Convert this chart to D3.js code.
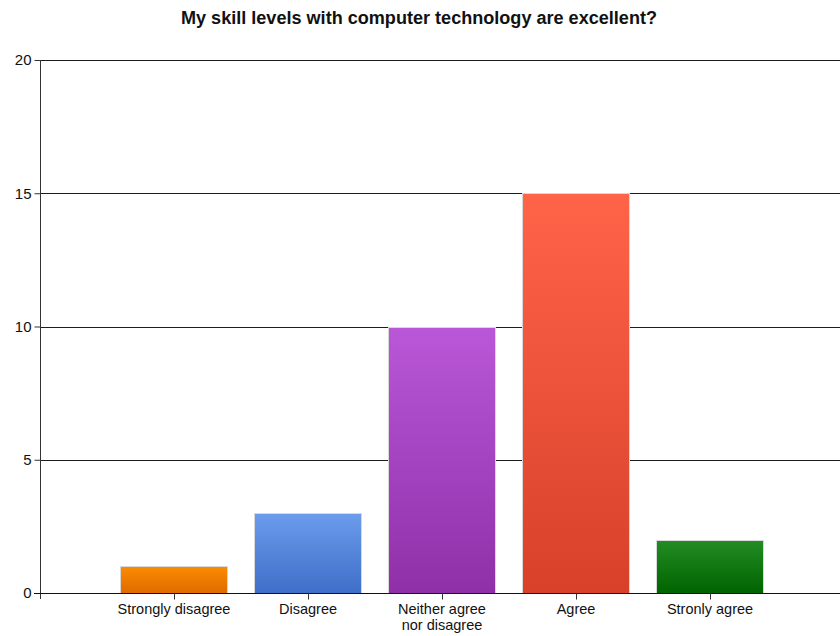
<!DOCTYPE html>
<html>
<head>
<meta charset="utf-8">
<script src="https://cdn.jsdelivr.net/npm/d3@7"></script>
<style>
  html, body { margin: 0; padding: 0; background: #fff; }
  svg { display: block; }
  text { font-family: "Liberation Sans", Arial, sans-serif; fill: #111; }
</style>
</head>
<body>
<svg id="chart" width="840" height="636"></svg>
<script>
// Survey answers and response counts
const categories = ["Strongly disagree", "Disagree", "Neither agree\nnor disagree", "Agree", "Stronly agree"];
const counts = [1, 3, 10, 15, 2];
const yTicks = [0, 5, 10, 15, 20];
// Gradient stops per bar: [top, bottom]
const barColors = [
  ["#fa8c00", "#df6a00"],
  ["#6c9ceb", "#3e6ec8"],
  ["#b957d8", "#8f30a8"],
  ["#ff6449", "#d8402a"],
  ["#238c23", "#006300"]
];
const title = "My skill levels with computer technology are excellent?";

const svg = d3.select("#chart");
const plotLeft = 40, plotTop = 60, plotBottom = 593, plotRight = 844;

// Category axis runs from position 0 to 6, categories sit at 1..5
const x = d3.scaleLinear().domain([0, categories.length + 1]).range([plotLeft, plotRight]);
const bandW = x(1) - x(0);
const barW = bandW * 0.8;
const y = d3.scaleLinear().domain([0, 20]).range([plotBottom, plotTop]);

svg.append("text")
  .attr("x", 419).attr("y", 24)
  .attr("text-anchor", "middle")
  .style("font-size", "18px").style("font-weight", "bold")
  .attr("textLength", 476).attr("lengthAdjust", "spacingAndGlyphs")
  .text(title);

// Horizontal gridlines
svg.append("g").selectAll("line").data(yTicks.filter(d => d > 0)).join("line")
  .attr("x1", plotLeft).attr("x2", 840)
  .attr("y1", d => Math.round(y(d)) + 0.5).attr("y2", d => Math.round(y(d)) + 0.5)
  .attr("stroke", "#1c1c1c").attr("stroke-width", 1);

// Gradients
const defs = svg.append("defs");
barColors.forEach((c, i) => {
  const g = defs.append("linearGradient").attr("id", "grad" + i)
    .attr("x1", 0).attr("y1", 0).attr("x2", 0).attr("y2", 1);
  g.append("stop").attr("offset", "0%").attr("stop-color", c[0]);
  g.append("stop").attr("offset", "100%").attr("stop-color", c[1]);
});

// Bars
svg.append("g").selectAll("rect").data(counts).join("rect")
  .attr("x", (d, i) => Math.round(x(i + 1) - barW / 2) + 0.5)
  .attr("y", d => Math.round(y(d)) + 0.5)
  .attr("width", Math.round(barW))
  .attr("height", d => Math.round(y(0)) - Math.round(y(d)))
  .attr("fill", (d, i) => `url(#grad${i})`)
  .attr("stroke", "#d8d8d8").attr("stroke-width", 1);

// Y axis
const yAxis = d3.axisLeft(y).tickValues(yTicks).tickSize(6).tickPadding(3).tickSizeOuter(0);
const gy = svg.append("g").attr("transform", `translate(${plotLeft + 0.5},0)`).call(yAxis);
gy.select(".domain").attr("stroke", "#333").attr("d", `M0,${plotTop}V${plotBottom + 6}`);
gy.selectAll(".tick line").attr("stroke", "#333");
gy.selectAll(".tick text").style("font-size", "15px").attr("fill", "#111")
  .attr("font-family", "Liberation Sans, Arial, sans-serif");

// X axis
const xAxis = d3.axisBottom(x).tickValues(d3.range(1, categories.length + 1))
  .tickSize(6).tickSizeOuter(0).tickFormat("");
const gx = svg.append("g").attr("transform", `translate(0,${Math.round(y(0)) + 0.5})`).call(xAxis);
gx.select(".domain").attr("stroke", "#111").attr("d", `M${plotLeft - 6},0H840`);
gx.selectAll(".tick line").attr("stroke", "#333");

// Category labels (multi-line where needed)
const labels = svg.append("g").selectAll("text").data(categories).join("text")
  .attr("text-anchor", "middle")
  .attr("x", (d, i) => x(i + 1))
  .attr("y", 614)
  .style("font-size", "14.5px");
labels.each(function(d, i) {
  d.split("\n").forEach((line, k) => {
    d3.select(this).append("tspan")
      .attr("x", x(i + 1)).attr("dy", k === 0 ? 0 : 16).text(line);
  });
});
</script>
</body>
</html>
